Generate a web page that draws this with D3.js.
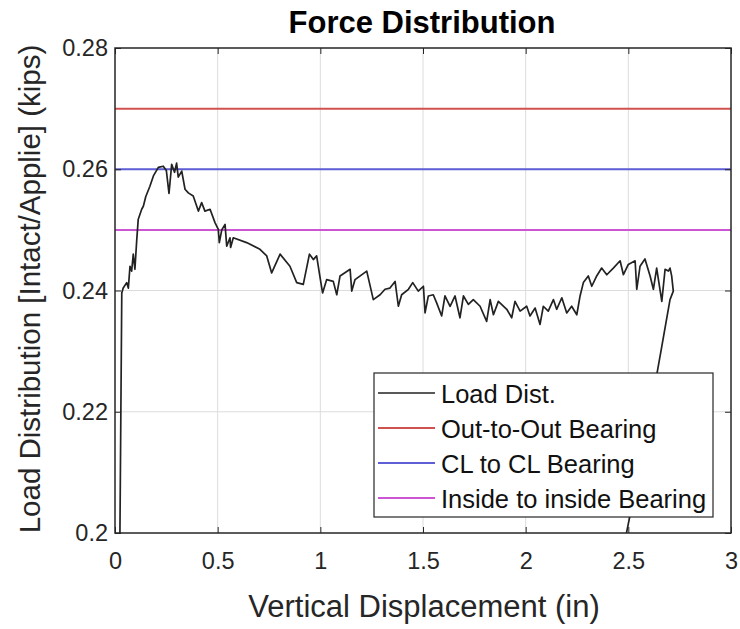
<!DOCTYPE html>
<html><head><meta charset="utf-8">
<script src="https://cdn.jsdelivr.net/npm/d3@7"></script>
<style>body{margin:0;background:#fff}svg{display:block}</style>
</head><body>
<svg id="c" width="740" height="629"></svg>
<script>
const loadX = [0.024,0.033,0.040,0.057,0.065,0.073,0.081,0.089,0.097,0.106,0.113,0.130,0.138,0.150,0.170,0.187,0.211,0.235,0.250,0.263,0.276,0.290,0.300,0.308,0.325,0.341,0.357,0.381,0.406,0.422,0.438,0.463,0.487,0.503,0.508,0.520,0.536,0.544,0.560,0.563,0.576,0.641,0.706,0.739,0.763,0.804,0.852,0.885,0.917,0.947,0.966,0.982,0.999,1.011,1.031,1.063,1.080,1.096,1.145,1.153,1.169,1.226,1.258,1.291,1.315,1.339,1.364,1.380,1.396,1.429,1.450,1.477,1.502,1.510,1.526,1.550,1.566,1.591,1.607,1.632,1.656,1.680,1.697,1.721,1.745,1.778,1.810,1.827,1.843,1.867,1.908,1.932,1.948,1.973,2.005,2.021,2.046,2.070,2.086,2.110,2.135,2.151,2.176,2.200,2.224,2.249,2.265,2.281,2.305,2.322,2.346,2.370,2.395,2.427,2.460,2.476,2.500,2.533,2.541,2.557,2.581,2.606,2.622,2.638,2.663,2.679,2.695,2.703,2.711,2.719,2.703,2.663,2.580,2.485];
const loadY = [0.200,0.2396,0.2404,0.2413,0.2404,0.2440,0.2432,0.2460,0.2435,0.2484,0.2517,0.2534,0.2539,0.2555,0.2572,0.2589,0.2603,0.2605,0.2598,0.2560,0.2608,0.2595,0.2610,0.2587,0.2597,0.2567,0.2561,0.2556,0.2531,0.2545,0.2531,0.2534,0.2512,0.2501,0.2479,0.2500,0.2509,0.2473,0.2487,0.2471,0.2487,0.2479,0.2468,0.2457,0.2429,0.2460,0.2440,0.2413,0.2410,0.2460,0.2451,0.2457,0.2421,0.2396,0.2418,0.2415,0.2393,0.2424,0.2435,0.2399,0.2418,0.2432,0.2385,0.2393,0.2402,0.2404,0.2415,0.2374,0.2393,0.2402,0.2413,0.2399,0.2407,0.2363,0.2391,0.2393,0.2380,0.2358,0.2391,0.2374,0.2391,0.2355,0.2391,0.2377,0.2385,0.2374,0.2349,0.2385,0.2360,0.2382,0.2369,0.2355,0.2382,0.2366,0.2374,0.2358,0.2371,0.2344,0.2374,0.2366,0.2385,0.2369,0.2388,0.2363,0.2374,0.2360,0.2391,0.2413,0.2424,0.2407,0.2424,0.2437,0.2426,0.2437,0.2449,0.2426,0.2443,0.2449,0.2402,0.2440,0.2452,0.2424,0.2402,0.2437,0.2382,0.2435,0.2432,0.2437,0.2424,0.2399,0.2385,0.2308,0.2150,0.1990];
const refLevels = [0.27, 0.26, 0.25];
const legendLabels = ["Load Dist.", "Out-to-Out Bearing", "CL to CL Bearing", "Inside to inside Bearing"];
const colors = ["#222222", "#d0524f", "#5e5ed6", "#cc55d4"];
const xTicks = [0, 0.5, 1, 1.5, 2, 2.5, 3];
const yTicks = [0.2, 0.22, 0.24, 0.26, 0.28];

const svg = d3.select("#c");
const font = "'Liberation Sans', Arial, sans-serif";
const L = 115, R = 731, T = 48, B = 533;
const x = d3.scaleLinear().domain([0, 3]).range([L, R]);
const y = d3.scaleLinear().domain([0.2, 0.28]).range([B, T]);

// grid
const g = svg.append("g");
g.selectAll(".gx").data(xTicks.slice(1, -1)).join("line")
  .attr("x1", d => x(d)).attr("x2", d => x(d)).attr("y1", T).attr("y2", B)
  .attr("stroke", "#dcdcdc").attr("stroke-width", 1);
g.selectAll(".gy").data(yTicks.slice(1, -1)).join("line")
  .attr("y1", d => y(d)).attr("y2", d => y(d)).attr("x1", L).attr("x2", R)
  .attr("stroke", "#dcdcdc").attr("stroke-width", 1);

svg.append("defs").append("clipPath").attr("id", "clip")
  .append("rect").attr("x", L).attr("y", T).attr("width", R - L).attr("height", B - T);

const plot = svg.append("g").attr("clip-path", "url(#clip)");
refLevels.forEach((v, i) => {
  plot.append("line").attr("x1", L).attr("x2", R).attr("y1", y(v)).attr("y2", y(v))
    .attr("stroke", colors[i + 1]).attr("stroke-width", 2);
});
const pts = loadX.map((d, i) => [d, loadY[i]]);
plot.append("path").datum(pts)
  .attr("d", d3.line().x(d => x(d[0])).y(d => y(d[1])))
  .attr("fill", "none").attr("stroke", colors[0]).attr("stroke-width", 1.7)
  .attr("stroke-linejoin", "round");

// axes
const axB = d3.axisBottom(x).tickValues(xTicks).tickSize(-6).tickPadding(19).tickFormat(d3.format("~g"));
const axL = d3.axisLeft(y).tickValues(yTicks).tickSize(-6).tickPadding(7).tickFormat(d3.format("~g"));
const axT = d3.axisTop(x).tickValues(xTicks).tickSize(-6).tickFormat("");
const axR = d3.axisRight(y).tickValues(yTicks).tickSize(-6).tickFormat("");
function style(sel) {
  sel.select(".domain").remove();
  sel.selectAll("line").attr("stroke", "#262626");
  sel.selectAll("text").attr("font-family", font).attr("font-size", 23.5).attr("fill", "#262626");
}
svg.append("g").attr("transform", `translate(0,${B})`).call(axB).call(style);
svg.append("g").attr("transform", `translate(${L},0)`).call(axL).call(style);
svg.append("g").attr("transform", `translate(0,${T})`).call(axT).call(style);
svg.append("g").attr("transform", `translate(${R},0)`).call(axR).call(style);
svg.append("rect").attr("x", L).attr("y", T).attr("width", R - L).attr("height", B - T)
  .attr("fill", "none").attr("stroke", "#262626").attr("stroke-width", 1.5);

// titles
svg.append("text").attr("x", 422).attr("y", 33).attr("text-anchor", "middle")
  .attr("font-family", font).attr("font-weight", "bold").attr("font-size", 31).attr("fill", "#000")
  .text("Force Distribution");
svg.append("text").attr("x", 424).attr("y", 617).attr("text-anchor", "middle")
  .attr("font-family", font).attr("font-size", 31).attr("fill", "#262626")
  .text("Vertical Displacement (in)");
svg.append("text").attr("transform", `translate(40,289) rotate(-90)`).attr("text-anchor", "middle")
  .attr("font-family", font).attr("font-size", 29.5).attr("fill", "#262626")
  .text("Load Distribution [Intact/Applie] (kips)");

// legend
const lg = svg.append("g");
lg.append("rect").attr("x", 374).attr("y", 373).attr("width", 339).attr("height", 144)
  .attr("fill", "#fff").attr("stroke", "#262626").attr("stroke-width", 1.2);
legendLabels.forEach((t, i) => {
  const yy = 393 + i * 35;
  lg.append("line").attr("x1", 378).attr("x2", 435).attr("y1", yy).attr("y2", yy)
    .attr("stroke", colors[i]).attr("stroke-width", i === 0 ? 1.3 : 2);
  lg.append("text").attr("x", 441).attr("y", yy + 10).attr("font-family", font).attr("font-size", 25.5)
    .attr("fill", "#111").text(t);
});
</script>
</body></html>
